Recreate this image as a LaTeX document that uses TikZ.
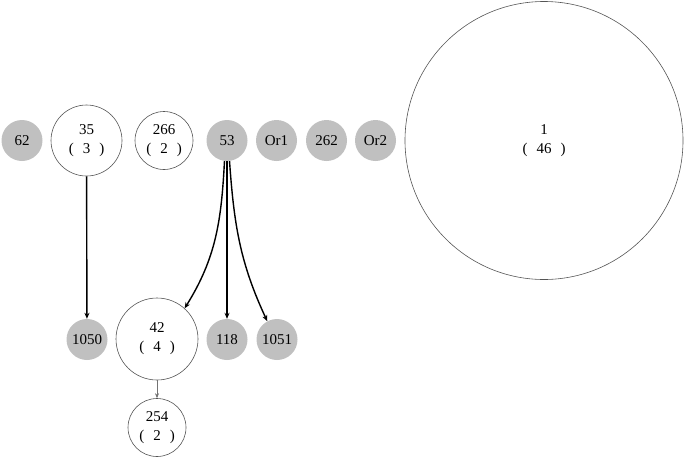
\documentclass[tikz,border=0pt]{standalone}
\usepackage{fontspec}
\setmainfont{Liberation Serif}
\usetikzlibrary{arrows.meta, positioning}
\definecolor{cleaf}{HTML}{C0C0C0}
\definecolor{crim}{HTML}{555555}
\tikzset{
  every picture/.style={x=1pt, y=1pt, font=\fontsize{15}{19}\selectfont},
  leaf/.style={circle, fill=cleaf, minimum size=41pt, inner sep=0pt},
  grp/.style={circle, draw=crim, line width=0.6pt, minimum size=#1, inner sep=0pt, align=center},
  grp/.default=58pt,
  edge/.style={-{Stealth[length=6pt, width=5pt]}, line width=1.4pt},
  thin edge/.style={-{Stealth[length=5pt, width=4pt]}, draw=black!55, line width=0.6pt},
}
\newcommand{\cnt}[1]{(\hspace{0.6em}#1\hspace{0.6em})}

\begin{document}
\begin{tikzpicture}
  \useasboundingbox (0, 0) rectangle (685, -459);
  % grey leaf nodes
  \foreach \nm/\x/\y in {62/22/-140.5, 53/227/-140.5, Or1/276.5/-140.5, 262/326.5/-140.5, Or2/375.5/-140.5,
                         1050/87/-339.5, 118/227/-339.5, 1051/277/-339.5} {
    \node[leaf] (n\nm) at (\x, \y) {\nm};
  }
  % grouped nodes
  \node[grp=71pt] (n35) at (86.5, -140.5) {35\\\cnt{3}};
  \node[grp] (n266) at (164, -140.5) {266\\\cnt{2}};
  \node[grp=278pt] (n1) at (544, -140.5) {1\\\cnt{46}};
  \node[grp=82pt] (n42) at (157, -339) {42\\\cnt{4}};
  \node[grp] (n254) at (157, -427.5) {254\\\cnt{2}};
  % edges
  \draw[edge] (n35) -- (n1050);
  \draw[edge] (n53.-97) to[out=-93, in=58] (n42.48);
  \draw[edge] (n53) -- (n118);
  \draw[edge] (n53.-83) to[out=-86, in=115] (n1051.118);
  \draw[thin edge] (n42) -- (n254);
\end{tikzpicture}
\end{document}
